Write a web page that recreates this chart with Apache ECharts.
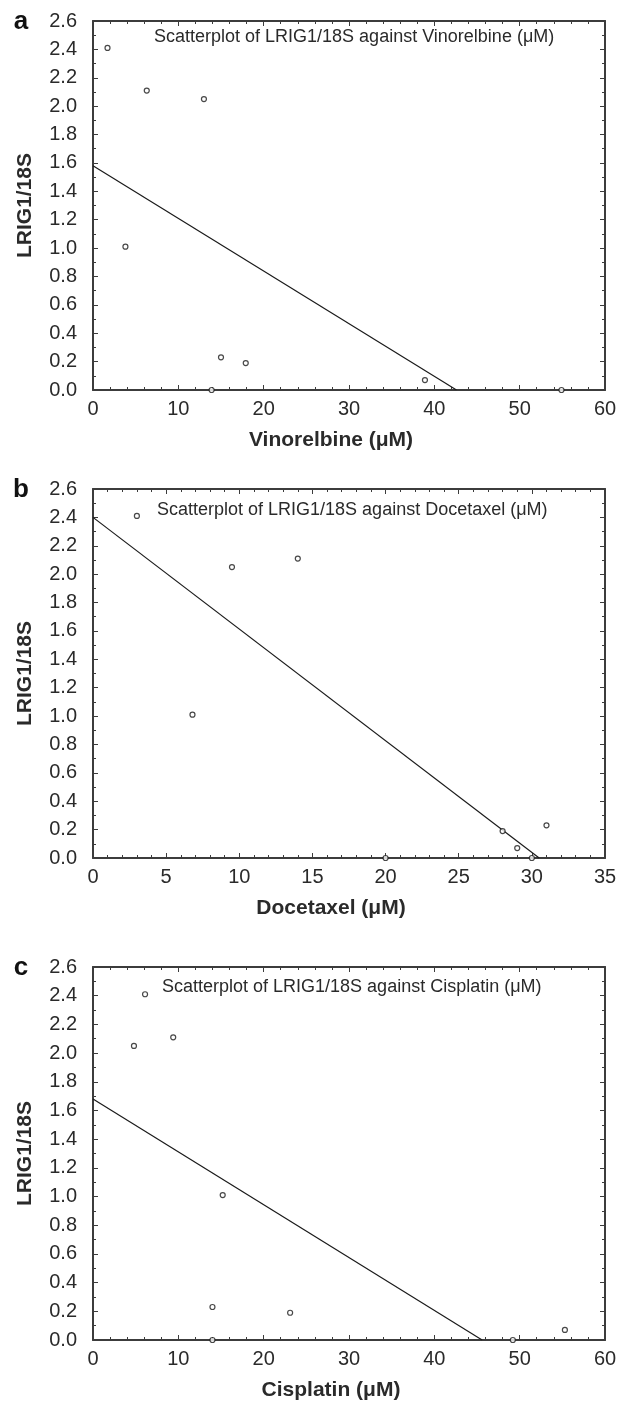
<!DOCTYPE html>
<html>
<head>
<meta charset="utf-8">
<title>LRIG1/18S scatterplots</title>
<script src="https://cdn.jsdelivr.net/npm/echarts@6/dist/echarts.min.js"></script>
<style>
  html, body { margin: 0; padding: 0; background: #fff; }
  #chart { width: 627px; height: 1402px; }
</style>
</head>
<body>
<div id="chart"></div>
<script>
// panel a - Vinorelbine
const vinoX = [1.7, 3.8, 6.3, 13.0, 15.0, 17.9, 38.9, 13.9, 54.9]
const vinoY = [2.41, 1.01, 2.11, 2.05, 0.23, 0.19, 0.07, 0.0, 0.0]
const vinoFit = [[0, 1.58], [42.6, 0]]

// panel b - Docetaxel
const doceX = [3.0, 6.8, 9.5, 14.0, 31.0, 28.0, 29.0, 20.0, 30.0]
const doceY = [2.41, 1.01, 2.05, 2.11, 0.23, 0.19, 0.07, 0.0, 0.0]
const doceFit = [[0, 2.40], [30.5, 0]]

// panel c - Cisplatin
const cisX = [6.1, 15.2, 4.8, 9.4, 14.0, 23.1, 55.3, 14.0, 49.2]
const cisY = [2.41, 1.01, 2.05, 2.11, 0.23, 0.19, 0.07, 0.0, 0.0]
const cisFit = [[0, 1.68], [45.6, 0]]

// axis ranges / ticks
const yTicks = { min: 0, max: 2.6, interval: 0.2 }
const xTicksA = { min: 0, max: 60, interval: 10 }
const xTicksB = { min: 0, max: 35, interval: 5 }
const xTicksC = { min: 0, max: 60, interval: 10 }

const panelLetters = ['a', 'b', 'c']
const xNames = ['Vinorelbine (μM)', 'Docetaxel (μM)', 'Cisplatin (μM)']
const yName = 'LRIG1/18S'
const plotTitles = [
  'Scatterplot of LRIG1/18S against Vinorelbine (μM)',
  'Scatterplot of LRIG1/18S against Docetaxel (μM)',
  'Scatterplot of LRIG1/18S against Cisplatin (μM)'
]

const FONT = "'Liberation Sans', Arial, sans-serif"
const AXIS_COLOR = '#3c3c3c'
const TEXT_COLOR = '#2a2a2a'

const panels = [
  { xs: vinoX, ys: vinoY, fit: vinoFit, xr: xTicksA, grid: { left: 93, top: 21, width: 512, height: 369 }, titleX: 154, titleY: 37 },
  { xs: doceX, ys: doceY, fit: doceFit, xr: xTicksB, grid: { left: 93, top: 489, width: 512, height: 369 }, titleX: 157, titleY: 510 },
  { xs: cisX, ys: cisY, fit: cisFit, xr: xTicksC, grid: { left: 93, top: 967, width: 512, height: 374 }, titleX: 162, titleY: 987 }
]

const chart = echarts.init(document.getElementById('chart'), null, { renderer: 'canvas' })

const grids = []
const xAxes = []
const yAxes = []
const series = []
const graphics = []

const lineStyle = { color: AXIS_COLOR, width: 2 }

panels.forEach((p, i) => {
  grids.push(p.grid)

  // bottom axis with labels
  xAxes.push({
    type: 'value', gridIndex: i, position: 'bottom',
    min: p.xr.min, max: p.xr.max, interval: p.xr.interval,
    name: xNames[i], nameLocation: 'middle', nameGap: 40,
    nameTextStyle: { fontFamily: FONT, fontSize: 21, fontWeight: 'bold', color: TEXT_COLOR, padding: [0, 36, 0, 0] },
    axisLine: { show: true, onZero: false, lineStyle },
    axisTick: { show: true, inside: true, length: 5, lineStyle: { color: AXIS_COLOR, width: 1 } },
    minorTick: { show: true, splitNumber: 5, length: 3, lineStyle: { color: AXIS_COLOR, width: 1 } },
    axisLabel: { fontFamily: FONT, fontSize: 20, color: TEXT_COLOR, margin: 9 },
    splitLine: { show: false }
  })
  // top mirror axis
  xAxes.push({
    type: 'value', gridIndex: i, position: 'top',
    min: p.xr.min, max: p.xr.max, interval: p.xr.interval,
    axisLine: { show: true, onZero: false, lineStyle },
    axisTick: { show: true, inside: true, length: 5, lineStyle: { color: AXIS_COLOR, width: 1 } },
    minorTick: { show: true, splitNumber: 5, length: 3, lineStyle: { color: AXIS_COLOR, width: 1 } },
    axisLabel: { show: false },
    splitLine: { show: false }
  })

  // left axis with labels
  yAxes.push({
    type: 'value', gridIndex: i, position: 'left',
    min: yTicks.min, max: yTicks.max, interval: yTicks.interval,
    name: yName, nameLocation: 'middle', nameGap: 57, nameRotate: 90,
    nameTextStyle: { fontFamily: FONT, fontSize: 21, fontWeight: 'bold', color: TEXT_COLOR },
    axisLine: { show: true, onZero: false, lineStyle },
    axisTick: { show: true, inside: true, length: 5, lineStyle: { color: AXIS_COLOR, width: 1 } },
    minorTick: { show: true, splitNumber: 2, length: 3, lineStyle: { color: AXIS_COLOR, width: 1 } },
    axisLabel: { fontFamily: FONT, fontSize: 20, color: TEXT_COLOR, margin: 16, formatter: v => v.toFixed(1) },
    splitLine: { show: false }
  })
  // right mirror axis
  yAxes.push({
    type: 'value', gridIndex: i, position: 'right',
    min: yTicks.min, max: yTicks.max, interval: yTicks.interval,
    axisLine: { show: true, onZero: false, lineStyle },
    axisTick: { show: true, inside: true, length: 5, lineStyle: { color: AXIS_COLOR, width: 1 } },
    minorTick: { show: true, splitNumber: 2, length: 3, lineStyle: { color: AXIS_COLOR, width: 1 } },
    axisLabel: { show: false },
    splitLine: { show: false }
  })

  series.push({
    type: 'scatter',
    xAxisIndex: i * 2, yAxisIndex: i * 2,
    data: p.xs.map((x, k) => [x, p.ys[k]]),
    symbol: 'circle', symbolSize: 5,
    itemStyle: { color: '#ffffff', borderColor: '#1a1a1a', borderWidth: 1.2 },
    clip: false, z: 3
  })
  series.push({
    type: 'line',
    xAxisIndex: i * 2, yAxisIndex: i * 2,
    data: p.fit,
    showSymbol: false, symbol: 'none',
    lineStyle: { color: '#1a1a1a', width: 1.2 },
    silent: true, z: 2
  })

  // title inside the plot box
  graphics.push({
    type: 'text', x: p.titleX, y: p.titleY,
    style: { text: plotTitles[i], font: '18px ' + FONT, fill: TEXT_COLOR, verticalAlign: 'middle', align: 'left' }
  })
  // panel letter
  graphics.push({
    type: 'text', x: 21, y: p.grid.top + 1,
    style: { text: panelLetters[i], font: 'bold 26px ' + FONT, fill: '#111', verticalAlign: 'middle', align: 'center' }
  })
})

chart.setOption({
  backgroundColor: '#ffffff',
  animation: false,
  grid: grids,
  xAxis: xAxes,
  yAxis: yAxes,
  series,
  graphic: graphics
})
</script>
</body>
</html>
